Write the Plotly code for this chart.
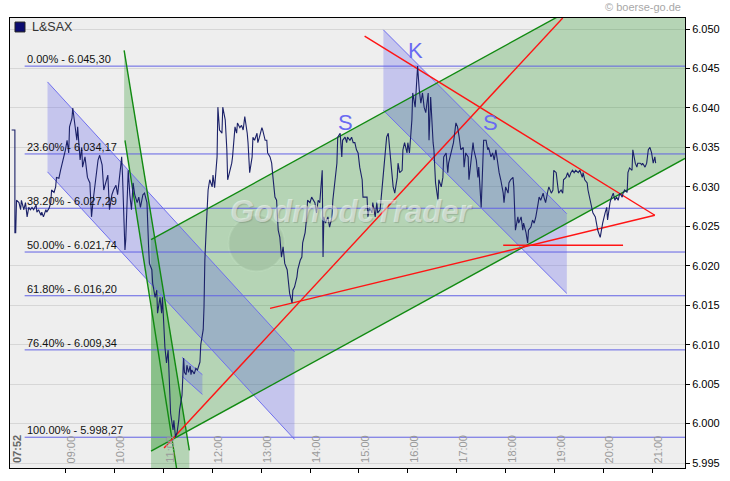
import plotly.graph_objects as go

# ---------------- data (time in minutes after midnight, index points) ----------------
minutes = [
    474, 478, 478, 479, 480, 483, 485, 486, 489, 491, 493, 495,
    497, 499, 501, 504, 505, 507, 510, 511, 513, 516, 517, 520,
    522, 523, 526, 528, 529, 532, 534, 535, 538, 540, 542, 544,
    545, 548, 549, 551, 554, 555, 558, 560, 561, 564, 566, 567,
    570, 572, 574, 576, 578, 580, 582, 585, 587, 590, 592, 594,
    597, 599, 602, 604, 607, 609, 610, 612, 613, 614, 617, 619,
    621, 623, 625, 628, 630, 632, 635, 637, 640, 642, 643, 646,
    647, 650, 652, 653, 656, 658, 659, 662, 664, 666, 667, 669,
    672, 673, 675, 677, 679, 680, 683, 684, 685, 686, 688, 689,
    690, 691, 693, 694, 695, 698, 700, 702, 705, 706, 709, 710,
    711, 712, 713, 715, 717, 720, 721, 723, 726, 727, 729, 732,
    733, 736, 738, 739, 742, 744, 745, 748, 750, 751, 754, 756,
    758, 760, 763, 764, 766, 769, 770, 772, 775, 776, 778, 781,
    782, 785, 787, 788, 791, 793, 794, 797, 799, 801, 803, 805,
    807, 809, 812, 813, 815, 818, 819, 821, 824, 825, 828, 830,
    831, 834, 836, 837, 840, 842, 844, 846, 848, 850, 852, 855,
    856, 857, 859, 862, 864, 867, 868, 870, 873, 874, 877, 879,
    880, 883, 885, 886, 889, 891, 893, 895, 897, 899, 901, 904,
    905, 907, 910, 911, 913, 916, 917, 920, 922, 923, 926, 929,
    932, 934, 936, 938, 940, 942, 944, 947, 948, 950, 953, 954,
    956, 959, 960, 962, 965, 966, 969, 971, 972, 974, 976, 978,
    980, 982, 985, 986, 988, 991, 992, 994, 997, 998, 1001, 1003,
    1004, 1007, 1009, 1010, 1013, 1015, 1016, 1019, 1021, 1023, 1025, 1028,
    1029, 1031, 1034, 1035, 1037, 1040, 1041, 1044, 1046, 1047, 1050, 1052,
    1053, 1056, 1058, 1059, 1062, 1064, 1066, 1068, 1070, 1072, 1074, 1077,
    1078, 1080, 1083, 1084, 1086, 1089, 1090, 1092, 1095, 1096, 1099, 1101,
    1102, 1105, 1107, 1108, 1111, 1113, 1115, 1117, 1120, 1121, 1123, 1126,
    1127, 1129, 1132, 1133, 1136, 1138, 1139, 1142, 1144, 1145, 1148, 1150,
    1151, 1154, 1156, 1158, 1160, 1162, 1164, 1166, 1169, 1171, 1174, 1175,
    1177, 1180, 1181, 1183, 1186, 1187, 1190, 1192, 1193, 1196, 1198, 1199,
    1202, 1204, 1205, 1208, 1210, 1212, 1214, 1216, 1218, 1220, 1223, 1224,
    1226, 1229, 1230, 1232, 1235, 1236, 1239, 1241, 1242, 1245, 1247, 1248,
    1251, 1253, 1255, 1257, 1259, 1261, 1263, 1264,
]
prices = [
    6037.2, 6037.2, 6024.2, 6024.2, 6028.3, 6028.0, 6027.1, 6028.3, 6027.1, 6028.0, 6026.2, 6027.4,
    6027.1, 6027.4, 6027.1, 6027.7, 6026.8, 6027.1, 6026.4, 6026.8, 6026.2, 6027.1, 6026.8, 6027.3,
    6028.0, 6029.6, 6029.3, 6030.0, 6031.2, 6031.1, 6032.1, 6032.5, 6033.8, 6034.7, 6035.9, 6034.3,
    6037.6, 6038.7, 6040.0, 6038.5, 6035.9, 6037.6, 6033.4, 6035.0, 6032.5, 6033.8, 6032.1, 6031.2,
    6030.5, 6026.2, 6028.3, 6030.0, 6031.8, 6033.4, 6034.0, 6032.8, 6029.6, 6030.9, 6031.5, 6027.1,
    6029.0, 6029.6, 6030.2, 6029.0, 6031.5, 6033.8, 6031.5, 6026.2, 6022.0, 6023.3, 6032.1, 6029.0,
    6027.1, 6030.5, 6029.0, 6028.0, 6028.7, 6027.4, 6029.0, 6029.2, 6028.0, 6022.4, 6020.3, 6019.5,
    6017.8, 6016.0, 6016.9, 6014.0, 6016.0, 6014.0, 6016.0, 6009.7, 6007.7, 6009.3, 6005.5, 6001.3,
    5999.2, 6000.4, 5998.3, 5998.9, 6000.4, 6001.7, 6003.6, 6007.8, 6008.3, 6006.5, 6006.2, 6007.4,
    6007.0, 6006.5, 6007.3, 6006.2, 6006.8, 6006.3, 6007.0, 6006.8, 6007.8, 6010.0, 6011.9, 6014.8,
    6020.7, 6024.2, 6025.4, 6029.6, 6030.9, 6030.0, 6031.5, 6029.9, 6033.8, 6040.1, 6037.2, 6036.8,
    6040.1, 6038.5, 6034.7, 6030.9, 6032.1, 6033.0, 6033.8, 6037.6, 6036.8, 6038.1, 6037.5, 6037.8,
    6037.2, 6038.9, 6036.8, 6035.6, 6031.8, 6033.8, 6036.3, 6035.9, 6036.8, 6035.6, 6036.3, 6037.5,
    6037.2, 6035.9, 6035.9, 6034.3, 6033.8, 6033.0, 6031.8, 6028.7, 6028.3, 6024.5, 6023.6, 6021.1,
    6022.4, 6020.3, 6019.5, 6018.6, 6016.5, 6015.3, 6016.9, 6017.3, 6018.6, 6019.5, 6020.7, 6021.1,
    6022.9, 6024.2, 6026.2, 6028.3, 6028.0, 6028.7, 6028.3, 6028.0, 6026.7, 6028.3, 6028.0, 6032.1,
    6021.1, 6026.2, 6025.4, 6026.2, 6024.9, 6026.2, 6028.3, 6030.5, 6033.0, 6036.3, 6036.8, 6033.8,
    6035.9, 6036.3, 6035.6, 6036.3, 6035.9, 6036.3, 6035.6, 6035.6, 6034.7, 6034.3, 6032.5, 6030.9,
    6028.7, 6028.7, 6028.7, 6026.2, 6027.4, 6026.7, 6028.0, 6026.2, 6028.0, 6026.7, 6027.1, 6030.5,
    6033.8, 6036.3, 6036.8, 6034.7, 6032.1, 6030.0, 6029.2, 6031.2, 6033.0, 6031.8, 6032.1, 6034.7,
    6035.6, 6034.3, 6035.6, 6034.3, 6038.5, 6041.9, 6040.1, 6044.4, 6045.3, 6042.3, 6040.6, 6041.9,
    6040.1, 6039.4, 6041.9, 6035.9, 6041.4, 6035.6, 6034.7, 6030.5, 6028.3, 6030.9, 6030.0, 6031.2,
    6033.8, 6034.3, 6031.8, 6033.0, 6034.3, 6035.0, 6035.6, 6038.1, 6037.6, 6036.3, 6034.7, 6035.0,
    6032.5, 6034.3, 6033.8, 6030.9, 6033.0, 6035.6, 6034.7, 6033.4, 6031.2, 6032.5, 6027.4, 6032.1,
    6035.9, 6035.9, 6034.7, 6035.0, 6033.8, 6034.3, 6033.4, 6034.7, 6033.0, 6031.8, 6030.9, 6029.2,
    6028.0, 6030.0, 6029.2, 6030.5, 6030.9, 6031.2, 6030.0, 6024.5, 6026.2, 6025.4, 6026.2, 6024.5,
    6025.4, 6024.2, 6022.9, 6024.5, 6024.9, 6025.8, 6025.4, 6026.2, 6028.0, 6028.7, 6028.3, 6029.2,
    6028.7, 6028.0, 6029.6, 6030.0, 6029.2, 6029.6, 6032.1, 6031.8, 6030.0, 6029.2, 6029.6, 6029.2,
    6030.9, 6031.2, 6031.8, 6031.2, 6031.8, 6032.1, 6031.8, 6032.1, 6031.8, 6032.1, 6031.2, 6031.8,
    6030.9, 6030.5, 6029.6, 6028.7, 6027.1, 6026.7, 6026.2, 6024.9, 6024.5, 6023.6, 6024.9, 6025.4,
    6026.7, 6027.4, 6025.8, 6028.0, 6028.7, 6029.2, 6028.3, 6028.7, 6028.3, 6029.2, 6028.7, 6029.2,
    6029.6, 6029.3, 6031.8, 6032.4, 6032.1, 6034.7, 6033.0, 6032.5, 6033.0, 6033.0, 6032.8, 6033.0,
    6032.5, 6033.0, 6034.7, 6035.0, 6034.3, 6033.0, 6033.8, 6033.0,
]
series_name = "L&SAX"

fib_pct = ["0.00%", "23.60%", "38.20%", "50.00%", "61.80%", "76.40%", "100.00%"]
fib_levels = [6045.30, 6034.17, 6027.29, 6021.74, 6016.20, 6009.34, 5998.27]
fib_start = 490

y_ticks = [5995, 6000, 6005, 6010, 6015, 6020, 6025, 6030, 6035, 6040, 6045, 6050]
y_tick_labels = ["5.995", "6.000", "6.005", "6.010", "6.015", "6.020",
                 "6.025", "6.030", "6.035", "6.040", "6.045", "6.050"]
hour_ticks = [540, 600, 660, 720, 780, 840, 900, 960, 1020, 1080, 1140, 1200, 1260]
hour_labels = ["09:00", "10:00", "11:00", "12:00", "13:00", "14:00", "15:00",
               "16:00", "17:00", "18:00", "19:00", "20:00", "21:00"]
start_minute = 472
start_label = "07:52"
x_range = [472, 1300]
y_range = [5994.37, 6051.4]

# drawn channels: (t_start, t_end, upper_start, upper_end, lower_start, lower_end)
blue_channel_a = (518, 821, 6043.3, 6009.1, 6031.9, 5998.0)
blue_channel_b = (930, 1155, 6049.9, 6026.6, 6039.7, 6016.5)
flag_channel = (683, 708, 6008.4, 6006.2, 6006.0, 6003.7)
green_channel = (645, 1300, 6023.3, 6060.4, 5996.5, 6033.6)
# steep falling channel: two lines and the shaded area
steep_line_1 = ([612, 692], [6047.3, 5996.6])
steep_line_2 = ([613, 677], [6035.9, 5993.9])
steep_area_t = [612, 692, 692, 645, 645, 613, 612, 612]
steep_area_p = [6047.3, 5996.6, 5990.0, 5990.0, 6015.2, 6035.9, 6035.9, 6047.3]
# red trend lines
red_lines = [
    ([661, 1150], [5996.9, 6051.4]),
    ([907, 1263], [6049.1, 6026.4]),
    ([791, 1263], [6014.6, 6026.4]),
    ([1077, 1224], [6022.6, 6022.6]),
]
# pattern letters (S - K - S)
pattern_text = ["S", "K", "S"]
pattern_t = [884, 969, 1061]
pattern_p = [6038.1, 6047.3, 6038.1]

# ---------------- styling ----------------
GREEN_FILL = "rgba(0,128,0,0.24)"
BLUE_FILL = "rgba(90,90,235,0.27)"
GREEN_LINE = "#118a11"
BLUE_LINE = "#6f6fee"
FIB_LINE = "#6262e4"
RED_LINE = "#ff1414"
FONT = "Liberation Sans"

fig = go.Figure()


def poly(ch):
    t0, t1, u0, u1, l0, l1 = ch
    return [t0, t1, t1, t0, t0], [u0, u1, l1, l0, u0]


def add_area(xs, ys, color):
    fig.add_trace(go.Scatter(x=xs, y=ys, mode="lines", fill="toself", fillcolor=color,
                             line=dict(width=0), hoverinfo="skip", showlegend=False))


def add_line(xs, ys, color, width):
    fig.add_trace(go.Scatter(x=xs, y=ys, mode="lines", line=dict(color=color, width=width),
                             hoverinfo="skip", showlegend=False))


# fills
gx, gy = poly(green_channel)
add_area(gx, gy, GREEN_FILL)
add_area(steep_area_t, steep_area_p, GREEN_FILL)
for ch in (blue_channel_a, blue_channel_b, flag_channel):
    px_, py_ = poly(ch)
    add_area(px_, py_, BLUE_FILL)

# fibonacci lines
for lvl in fib_levels:
    add_line([fib_start, x_range[1]], [lvl, lvl], FIB_LINE, 1)

# channel borders
for ch in (blue_channel_a, blue_channel_b, flag_channel):
    t0, t1, u0, u1, l0, l1 = ch
    add_line([t0, t1], [u0, u1], BLUE_LINE, 1)
    add_line([t0, t1], [l0, l1], BLUE_LINE, 1)
t0, t1, u0, u1, l0, l1 = green_channel
add_line([t0, t1], [u0, u1], GREEN_LINE, 1.4)
add_line([t0, t1], [l0, l1], GREEN_LINE, 1.4)
add_line(steep_line_1[0], steep_line_1[1], GREEN_LINE, 1.4)
add_line(steep_line_2[0], steep_line_2[1], GREEN_LINE, 1.4)

for xs, ys in red_lines:
    add_line(xs, ys, RED_LINE, 1.4)

# price series
fig.add_trace(go.Scatter(x=minutes, y=prices, mode="lines", name=series_name,
                         line=dict(color="#1b2168", width=1.1), showlegend=False))

annotations = []


def de_num(v):
    s = f"{v:,.2f}"
    return s.replace(",", "X").replace(".", ",").replace("X", ".")


for pct, lvl in zip(fib_pct, fib_levels):
    annotations.append(dict(x=fib_start, y=lvl, xref="x", yref="y", text=f"{pct} - {de_num(lvl)}",
                            showarrow=False, xanchor="left", yanchor="bottom", xshift=0, yshift=-1,
                            font=dict(family=FONT, size=11, color="#111111")))

for txt, t, p in zip(pattern_text, pattern_t, pattern_p):
    annotations.append(dict(x=t, y=p, xref="x", yref="y", text=txt, showarrow=False,
                            font=dict(family=FONT, size=22, color="#6a6af2")))

for t, lab in zip(hour_ticks, hour_labels):
    annotations.append(dict(x=t, y=0, xref="x", yref="paper", text=lab, showarrow=False,
                            textangle=-90, xanchor="center", yanchor="bottom", xshift=6, yshift=3,
                            font=dict(family=FONT, size=11, color="#9a9a9a")))
annotations.append(dict(x=start_minute, y=0, xref="x", yref="paper", text=f"<b>{start_label}</b>",
                        showarrow=False, textangle=-90, xanchor="center", yanchor="bottom",
                        xshift=7, yshift=3, font=dict(family=FONT, size=11, color="#666666")))

# legend text
annotations.append(dict(x=0.0296, y=0.98, xref="paper", yref="paper", text=series_name,
                        showarrow=False, xanchor="left", yanchor="middle",
                        font=dict(family=FONT, size=12.5, color="#333333")))
# copyright
annotations.append(dict(x=0.997, y=1.024, xref="paper", yref="paper", text="© boerse-go.de",
                        showarrow=False, xanchor="right", yanchor="middle",
                        font=dict(family=FONT, size=11, color="#a8a8a8")))
# watermark
annotations.append(dict(x=891, y=6026.9, xref="x", yref="y", text="<b><i>GodmodeTrader</i></b>",
                        showarrow=False,
                        font=dict(family=FONT, size=31, color="rgba(255,255,255,0.5)",
                                  shadow="1px 1px 1px rgba(0,0,0,0.3)")))

shapes = [
    dict(type="rect", xref="paper", yref="paper", x0=0.0074, x1=0.0222, y0=0.969, y1=0.991,
         fillcolor="#0b0b70", line=dict(color="#222222", width=1)),
    dict(type="circle", xref="x", yref="y", x0=740, x1=809, y0=6019.3, y1=6026.4,
         fillcolor="rgba(130,130,130,0.16)", line=dict(color="rgba(255,255,255,0.35)", width=2),
         layer="below"),
]

fig.update_layout(
    width=730, height=481,
    margin=dict(l=10, r=45, t=18, b=13),
    paper_bgcolor="white", plot_bgcolor="#eeeeee",
    showlegend=False,
    annotations=annotations, shapes=shapes,
    font=dict(family=FONT, size=11, color="black"),
)
fig.update_xaxes(range=x_range, showgrid=False, zeroline=False, showline=True, linecolor="black",
                 linewidth=1, mirror=True, ticks="outside", ticklen=4, tickcolor="black",
                 tickvals=hour_ticks, showticklabels=False)
fig.update_yaxes(range=y_range, side="right", showgrid=True, gridcolor="#d6d6d6", gridwidth=1,
                 zeroline=False, showline=True, linecolor="black", linewidth=1, mirror=True,
                 ticks="outside", ticklen=4, tickcolor="black", tickvals=y_ticks,
                 ticktext=y_tick_labels,
                 tickfont=dict(family=FONT, size=11, color="black"))

fig.write_html("out.html", config={"displayModeBar": False},
               post_script="document.body.style.margin='0px';")
